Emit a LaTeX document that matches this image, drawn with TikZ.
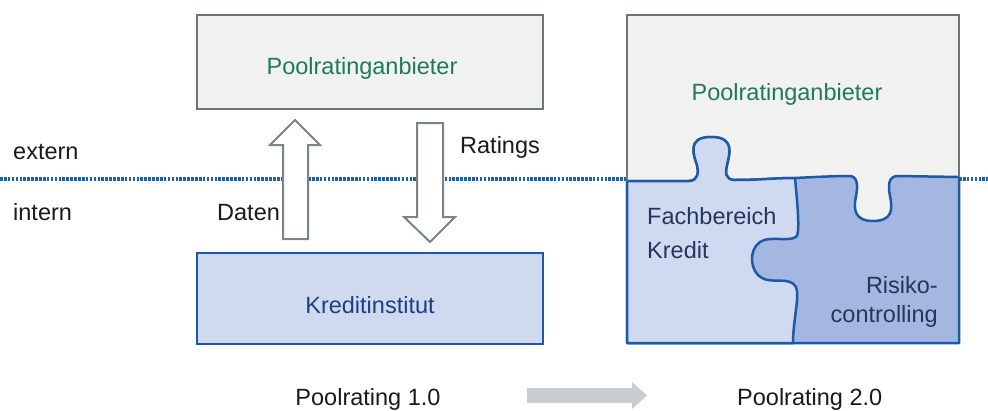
\documentclass[tikz,border=0pt]{standalone}
\usepackage{fontspec}
\setmainfont{Liberation Sans}
\definecolor{boxgray}{HTML}{F1F1EF}
\definecolor{edgegray}{HTML}{6B7777}
\definecolor{arrowgray}{HTML}{7A8585}
\definecolor{lightblue}{HTML}{CFDAF1}
\definecolor{midblue}{HTML}{A3B7E1}
\definecolor{edgeblue}{HTML}{1C5AA6}
\definecolor{dotblue}{HTML}{1F5FB0}
\definecolor{txtgreen}{HTML}{1E7A5A}
\definecolor{txtblue}{HTML}{1F3F80}
\definecolor{txtnavy}{HTML}{24365C}
\definecolor{txtdark}{HTML}{1A1A1A}
\definecolor{flowgray}{HTML}{C9CDCF}
\tikzset{
  lbl/.style={font=\fontsize{23.5}{28}\selectfont, inner sep=0pt, text=txtdark},
  graybox/.style={draw=edgegray, fill=boxgray, line width=2.5pt, inner sep=0pt},
  bluebox/.style={draw=edgeblue, fill=lightblue, line width=2.5pt, inner sep=0pt},
  hollowarrow/.style={draw=arrowgray, fill=white, line width=2pt, line join=miter},
  boundary/.style={draw=dotblue, line width=3.4pt, dash pattern=on 2.6pt off 1.3pt},
  piece/.style={draw=edgeblue, line width=2.5pt, line join=round},
}
\begin{document}
\begin{tikzpicture}[x=1pt, y=-1pt]
  \useasboundingbox (0,0) rectangle (988,410);

  % extern / intern boundary
  \coordinate (bl) at (0,179);
  \coordinate (bm) at (627,179);
  \coordinate (bn) at (959,179);
  \coordinate (br) at (988,179);
  \draw[boundary] (bl) -- (bm);
  \draw[boundary] (bn) -- (br);
  \node[lbl, anchor=base west] (ext) at (13,159) {extern};
  \node[lbl, anchor=base west] (int) at (13,220) {intern};

  % Poolrating 1.0
  \node[graybox, minimum width=346pt, minimum height=94pt] (anb) at (370,62) {};
  \node[lbl, anchor=base, text=txtgreen] (anbtxt) at (362,74) {Poolratinganbieter};
  \node[bluebox, minimum width=346pt, minimum height=91pt] (kri) at (370,298.5) {};
  \node[lbl, anchor=base, text=txtblue] (kritxt) at (370,313) {Kreditinstitut};

  % data up, ratings down
  \draw[hollowarrow] (283,239) -- (283,145) -- (270,145) -- (295,120) -- (320,145)
        -- (308,145) -- (308,239) -- cycle;
  \draw[hollowarrow] (417,123) -- (443,123) -- (443,217) -- (455,217) -- (430,242)
        -- (404,217) -- (417,217) -- cycle;
  \node[lbl, anchor=base west] (daten) at (217,220) {Daten};
  \node[lbl, anchor=base west] (ratings) at (460,153) {Ratings};

  % Poolrating 2.0: square with puzzle pieces
  \node[graybox, minimum width=332pt, minimum height=328pt] (sq) at (793,179) {};
  \node[lbl, anchor=base, text=txtgreen] (sqtxt) at (787,100) {Poolratinganbieter};

  % lower region (Risikocontrolling piece shows through on the right)
  \filldraw[piece, fill=midblue]
    (627,181) -- (689,181)
    .. controls (698,181) and (699,172) .. (697,165)
    .. controls (694,156) and (686,137) .. (711,137)
    .. controls (736,137) and (729,155) .. (727,165)
    .. controls (725,172) and (725,180) .. (735,180)
    .. controls (760,180) and (775,178) .. (795,178)
    .. controls (815,177) and (835,176) .. (849,176)
    .. controls (858,176) and (858,186) .. (856,196)
    .. controls (853,210) and (855,221) .. (873,221)
    .. controls (892,221) and (893,210) .. (890,196)
    .. controls (888,186) and (888,176) .. (898,176)
    -- (959,177) -- (959,343) -- (627,343) -- cycle;

  % Fachbereich Kredit piece
  \filldraw[piece, fill=lightblue]
    (627,181) -- (689,181)
    .. controls (698,181) and (699,172) .. (697,165)
    .. controls (694,156) and (686,137) .. (711,137)
    .. controls (736,137) and (729,155) .. (727,165)
    .. controls (725,172) and (725,180) .. (735,180)
    .. controls (760,180) and (775,178) .. (795,178)
    .. controls (797,200) and (800,228) .. (797,236)
    .. controls (790,243) and (770,235) .. (760,242)
    .. controls (748,250) and (750,272) .. (762,278)
    .. controls (772,284) and (790,276) .. (796,287)
    .. controls (800,296) and (793,320) .. (793,343)
    -- (627,343) -- cycle;

  % square outline on top
  \draw[draw=edgegray, line width=2.5pt] (627,181) -- (627,15) -- (959,15) -- (959,177);
  \draw[draw=edgeblue, line width=2.5pt] (627,181) -- (627,343) -- (959,343) -- (959,177);

  \node[lbl, anchor=base west, text=txtnavy] (fach) at (647,224) {Fachbereich};
  \node[lbl, anchor=base west, text=txtnavy] (kred) at (647,258) {Kredit};
  \node[lbl, anchor=base east, text=txtnavy] (ris) at (938,293) {Risiko-};
  \node[lbl, anchor=base east, text=txtnavy] (contr) at (938,322) {controlling};

  % captions and transition arrow
  \node[lbl, anchor=base] (cap1) at (368,405) {Poolrating 1.0};
  \node[lbl, anchor=base west] (cap2) at (737,405) {Poolrating 2.0};
  \fill[flowgray] (527,388) -- (632,388) -- (632,382) -- (647,395.5) -- (632,409)
        -- (632,403) -- (527,403) -- cycle;
\end{tikzpicture}
\end{document}
